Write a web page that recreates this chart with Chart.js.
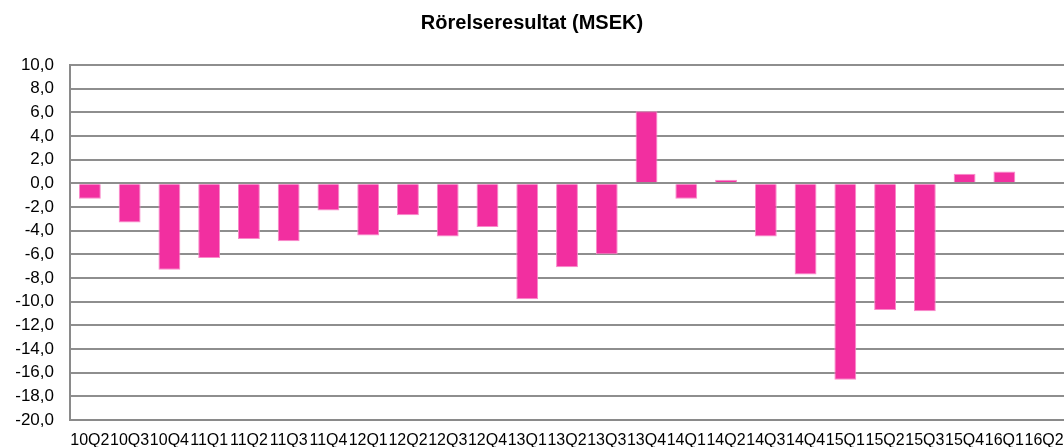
<!DOCTYPE html>
<html>
<head>
<meta charset="utf-8">
<script src="https://cdn.jsdelivr.net/npm/chart.js@4/dist/chart.umd.min.js"></script>
<style>
  html, body { margin: 0; padding: 0; background: #fff; }
  #wrap { width: 1064px; height: 447px; }
</style>
</head>
<body>
<div id="wrap"><canvas id="resultChart"></canvas></div>
<script>
const quarters = [
  "10Q2", "10Q3", "10Q4", "11Q1", "11Q2", "11Q3", "11Q4", "12Q1", "12Q2",
  "12Q3", "12Q4", "13Q1", "13Q2", "13Q3", "13Q4", "14Q1", "14Q2", "14Q3",
  "14Q4", "15Q1", "15Q2", "15Q3", "15Q4", "16Q1", "16Q2"
];

// Rörelseresultat, MSEK (16Q2 has no bar)
const operatingResult = [
  -1.3, -3.3, -7.3, -6.3, -4.7, -4.9, -2.3, -4.4, -2.7,
  -4.5, -3.7, -9.8, -7.1, -6.0, 6.1, -1.3, 0.3, -4.5,
  -7.7, -16.6, -10.7, -10.8, 0.8, 1.0, null
];

const yMin = -20;
const yMax = 10;
const yStep = 2;

const fmt = v => v.toFixed(1).replace(".", ",");

new Chart("resultChart", {
  type: "bar",
  data: {
    labels: quarters,
    datasets: [{
      data: operatingResult,
      backgroundColor: "#F22FA0",
      borderColor: "#F98ACA",
      borderWidth: 1,
      barPercentage: 0.55,
      categoryPercentage: 1
    }]
  },
  options: {
    responsive: true,
    maintainAspectRatio: false,
    animation: false,
    layout: { padding: 0 },
    plugins: {
      legend: { display: false },
      tooltip: { enabled: false },
      title: {
        display: true,
        text: "Rörelseresultat (MSEK)",
        color: "#000",
        font: { family: "Liberation Sans, Arial, sans-serif", size: 20, weight: "bold" },
        padding: { top: 11, bottom: 30 }
      }
    },
    scales: {
      x: {
        grid: { display: false },
        border: { display: true, color: "#8a8a8a", width: 2 },
        ticks: {
          color: "#000",
          autoSkip: false,
          maxRotation: 0,
          minRotation: 0,
          padding: 3,
          font: { family: "Liberation Sans, Arial, sans-serif", size: 16 }
        },
        afterFit: scale => {
          scale.height = 27;
          scale.paddingLeft = 0;
          scale.paddingRight = 0;
        }
      },
      y: {
        min: yMin,
        max: yMax,
        grid: { color: "#8e8e8e", lineWidth: 2, drawTicks: false },
        border: { display: true, color: "#8a8a8a", width: 2 },
        ticks: {
          stepSize: yStep,
          color: "#000",
          padding: 16,
          font: { family: "Liberation Sans, Arial, sans-serif", size: 17 },
          callback: v => fmt(v)
        },
        afterFit: scale => { scale.width = 70; }
      }
    }
  }
});
</script>
</body>
</html>
